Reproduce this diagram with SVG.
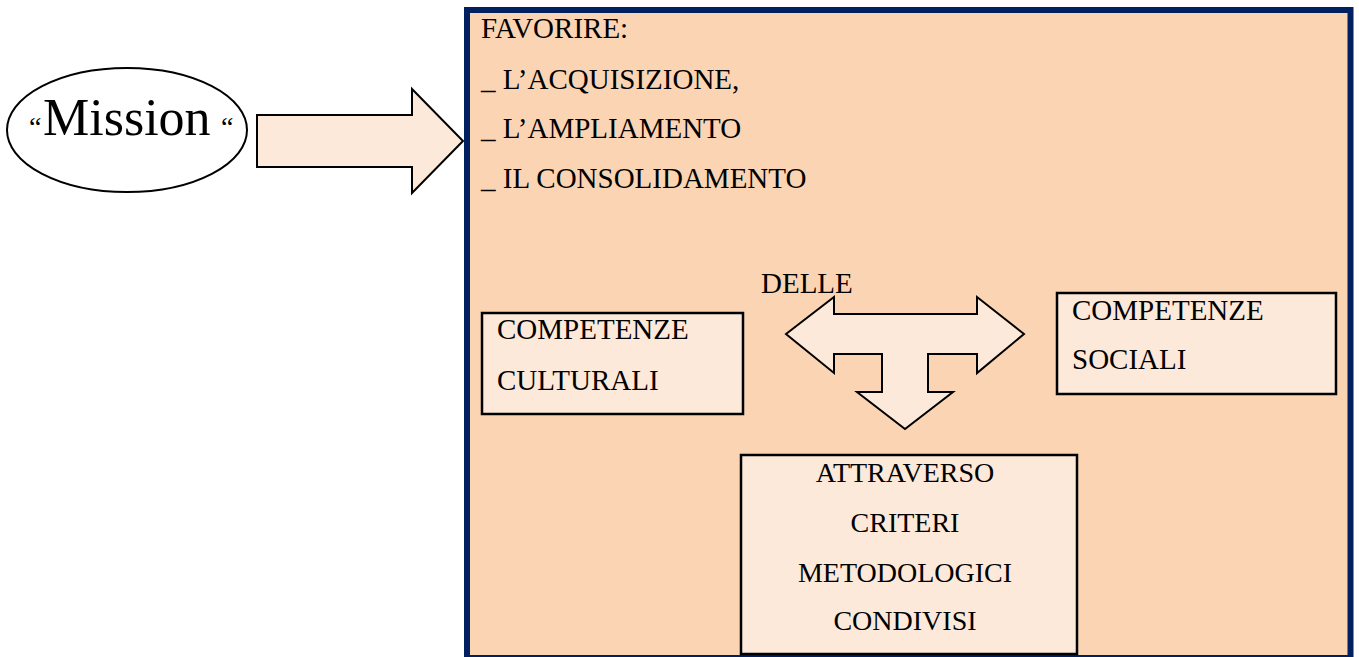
<svg xmlns="http://www.w3.org/2000/svg" width="1359" height="657" viewBox="0 0 1359 657">
<style>
text { font-family: "Liberation Serif", "Times New Roman", serif; fill: #000; }
.t { font-size: 29px; }
.tb { font-size: 28px; }
.box { fill: #FDE9D9; stroke: #000; stroke-width: 2.5; }
.arr { fill: #FDE9D9; stroke: #000; stroke-width: 2; stroke-linejoin: miter; }
</style>
<rect width="1359" height="657" fill="#ffffff"/>
<g id="main">
  <rect x="467" y="10" width="883.5" height="648" fill="#FBD4B4" stroke="#002060" stroke-width="6"/>
  <text class="t" x="481" y="38">FAVORIRE:</text>
  <text class="t" x="481" y="89">_ L’ACQUISIZIONE,</text>
  <text class="t" x="481" y="138">_ L’AMPLIAMENTO</text>
  <text class="t" x="481" y="188">_ IL CONSOLIDAMENTO</text>
</g>
<g id="mission">
  <ellipse cx="127" cy="130" rx="120" ry="62" fill="#ffffff" stroke="#000" stroke-width="2"/>
  <text y="135"><tspan x="29" y="136" font-size="28">“</tspan><tspan x="43" y="135" font-size="52">Mission</tspan><tspan x="221" y="136" font-size="28">“</tspan></text>
</g>
<g id="connectors">
  <path class="arr" d="M257,115 L412,115 L412,89 L463,141 L412,193 L412,167 L257,167 Z"/>
  <path class="arr" d="M786,334 L834,297 L834,314 L977,314 L977,297 L1024,334 L977,373 L977,354 L928,354 L928,392 L953,392 L905,429 L857,392 L882,392 L882,354 L834,354 L834,373 Z"/>
</g>
<g id="delle">
  <text class="t" x="761" y="293">DELLE</text>
</g>
<g id="culturali">
  <rect class="box" x="482" y="313" width="261" height="101"/>
  <text class="t" x="497" y="339">COMPETENZE</text>
  <text class="t" x="497" y="390">CULTURALI</text>
</g>
<g id="sociali">
  <rect class="box" x="1057" y="293" width="279" height="101"/>
  <text class="t" x="1072" y="320">COMPETENZE</text>
  <text class="t" x="1072" y="369">SOCIALI</text>
</g>
<g id="attraverso">
  <rect class="box" x="741" y="455" width="336" height="199"/>
  <text class="tb" x="905" y="482" text-anchor="middle">ATTRAVERSO</text>
  <text class="tb" x="905" y="532" text-anchor="middle">CRITERI</text>
  <text class="tb" x="905" y="582" text-anchor="middle">METODOLOGICI</text>
  <text class="tb" x="905" y="630" text-anchor="middle">CONDIVISI</text>
</g>
</svg>
